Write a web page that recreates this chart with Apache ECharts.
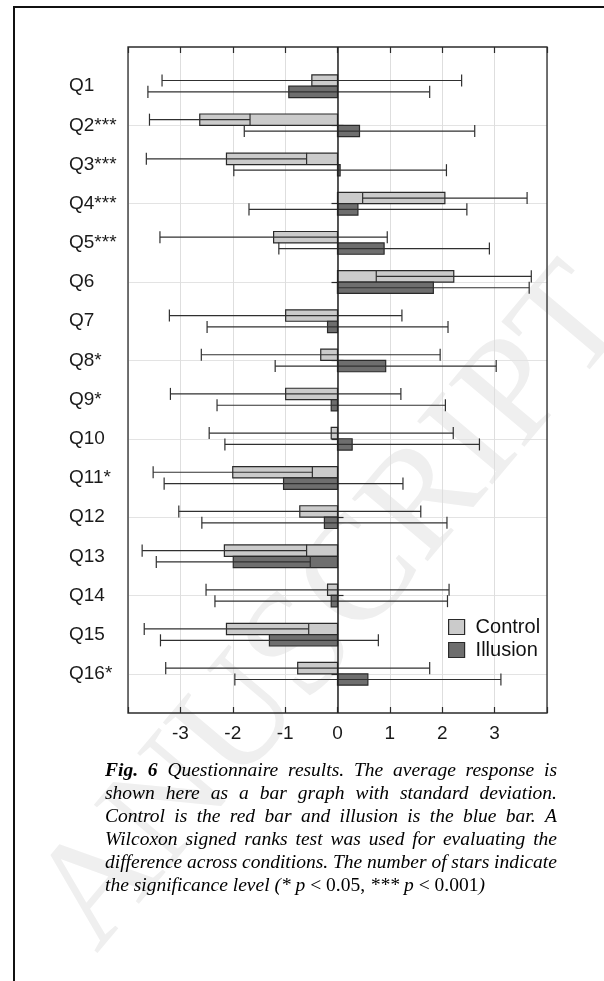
<!DOCTYPE html>
<html><head><meta charset="utf-8">
<script src="https://cdn.jsdelivr.net/npm/echarts@6/dist/echarts.min.js"></script>
<style>
html,body{margin:0;padding:0;background:#fff;}
#wrap{position:relative;width:604px;height:981px;overflow:hidden;}
#chart{position:absolute;left:0;top:0;width:604px;height:981px;}
#caption{position:absolute;left:105px;top:758px;width:452px;font-family:'Liberation Serif','Times New Roman',serif;font-style:italic;font-size:19.5px;line-height:23px;color:#000;}
#caption .j{display:flex;justify-content:space-between;white-space:nowrap;}
#caption .l{white-space:nowrap;}
#caption b{font-weight:bold;}
#caption .m{font-style:italic;}
#caption .u{font-style:normal;}
</style></head>
<body>
<div id="wrap">
<div id="chart"></div>
<div id="caption"></div>
</div>
<script>
const categories = ['Q1','Q2***','Q3***','Q4***','Q5***','Q6','Q7','Q8*','Q9*','Q10','Q11*','Q12','Q13','Q14','Q15','Q16*'];
const controlMean  = [-0.49, -2.63, -2.12, 2.05, -1.22, 2.22, -0.99, -0.32, -0.99, -0.12, -2.00, -0.72, -2.16, -0.19, -2.12, -0.76];
const controlSD    = [ 2.86,  0.96,  1.53, 1.57,  2.17, 1.48,  2.22,  2.28,  2.20,  2.33,  1.52,  2.31,  1.57,  2.32,  1.57,  2.52];
const illusionMean = [-0.93,  0.42,  0.05, 0.39,  0.89, 1.83, -0.19,  0.92, -0.12,  0.28, -1.03, -0.25, -1.99, -0.12, -1.30,  0.58];
const illusionSD   = [ 2.69,  2.20,  2.03, 2.08,  2.01, 1.83,  2.30,  2.11,  2.18,  2.43,  2.28,  2.34,  1.47,  2.22,  2.08,  2.54];
const xTickLabels = ['-3','-2','-1','0','1','2','3'];
const seriesNames = ['Control','Illusion'];

const captionLines = [
  'Fig. 6 Questionnaire results. The average response is',
  'shown here as a bar graph with standard deviation.',
  'Control is the red bar and illusion is the blue bar. A',
  'Wilcoxon signed ranks test was used for evaluating the',
  'difference across conditions. The number of stars indicate'
];

(function(){
  const cap = document.getElementById('caption');
  captionLines.forEach((line, li) => {
    const d = document.createElement('div');
    d.className = 'j';
    line.split(' ').forEach((w, wi) => {
      const s = document.createElement(li === 0 && wi < 2 ? 'b' : 'span');
      s.textContent = w;
      d.appendChild(s);
    });
    cap.appendChild(d);
  });
  const last = document.createElement('div');
  last.className = 'l';
  last.innerHTML = 'the significance level (* <span class="m">p</span> <span class="u">&lt; 0.05,</span> *** <span class="m">p</span> <span class="u">&lt; 0.001</span>)';
  cap.appendChild(last);
})();

const yCats = [''].concat(categories, ['']);
const evenTick = (idx) => idx > 0 && idx < yCats.length - 1 && idx % 2 === 0;

const COLORS = {Control:'#cbcbcb', Illusion:'#6e6e6e'};
const EDGE = '#2a2a2a';

function makeRender(side, fill){
  return function(params, api){
    const yi = api.value(0);
    const mean = api.value(1), sd = api.value(2);
    const c0 = api.coord([0, yi]);
    const cm = api.coord([mean, yi]);
    const cl = api.coord([mean - sd, yi]);
    const ch = api.coord([mean + sd, yi]);
    const band = Math.abs(api.coord([0, yi + 1])[1] - c0[1]);
    const h = band * 0.29;
    const top = side < 0 ? c0[1] - h : c0[1];
    const cy = top + h / 2;
    const capH = h * 1.06;
    const x1 = Math.min(c0[0], cm[0]);
    const w = Math.abs(cm[0] - c0[0]);
    const ls = {stroke:'#303030', lineWidth:1.2};
    return {type:'group', children:[
      {type:'rect', shape:{x:x1, y:top, width:w, height:h}, style:{fill:fill, stroke:EDGE, lineWidth:1.2}},
      {type:'line', shape:{x1:cl[0], y1:cy, x2:ch[0], y2:cy}, style:ls},
      {type:'line', shape:{x1:cl[0], y1:cy - capH/2, x2:cl[0], y2:cy + capH/2}, style:ls},
      {type:'line', shape:{x1:ch[0], y1:cy - capH/2, x2:ch[0], y2:cy + capH/2}, style:ls}
    ]};
  };
}

const chart = echarts.init(document.getElementById('chart'), null, {renderer:'canvas'});
const axisFont = {fontFamily:'Liberation Sans, Arial, sans-serif', fontSize:19, color:'#1a1a1a'};

const xBase = {
  type:'value', min:-4, max:4, interval:1,
  axisLine:{show:false},
  axisTick:{show:true, inside:true, length:6, lineStyle:{color:'#2b2b2b', width:1.2}}
};

chart.setOption({
  animation:false,
  backgroundColor:'#fff',
  grid:{left:128, top:47, width:419, height:666, show:true, borderColor:'#2b2b2b', borderWidth:1.3, backgroundColor:'transparent', z:3},
  xAxis:[
    Object.assign({}, xBase, {position:'bottom',
      axisLabel:Object.assign({margin:11, formatter:(v)=>{ const s=String(v); return xTickLabels.indexOf(s)>=0 ? s : ''; }}, axisFont),
      splitLine:{show:true, lineStyle:{color:'#dedede', width:1}}}),
    Object.assign({}, xBase, {position:'top', axisLabel:{show:false}, splitLine:{show:false}})
  ],
  yAxis:[
    {type:'category', data:yCats, inverse:true, boundaryGap:false, position:'left',
     axisLine:{show:false},
     axisTick:{show:true, inside:true, length:6, interval:evenTick, lineStyle:{color:'#2b2b2b', width:1.2}},
     axisLabel:Object.assign({interval:0, align:'left', margin:59}, axisFont),
     splitLine:{show:true, interval:evenTick, lineStyle:{color:'#e3e3e3', width:1}}},
    {type:'category', data:yCats, inverse:true, boundaryGap:false, position:'right',
     axisLine:{show:false},
     axisTick:{show:true, inside:true, length:6, interval:evenTick, lineStyle:{color:'#2b2b2b', width:1.2}},
     axisLabel:{show:false}, splitLine:{show:false}}
  ],
  legend:{
    orient:'vertical', left:448, top:617, padding:0, itemWidth:16, itemHeight:15, itemGap:3, icon:'rect',
    textStyle:{fontFamily:'Liberation Sans, Arial, sans-serif', fontSize:20, color:'#111', padding:[0,0,0,6]},
    data:seriesNames.map(n => ({name:n, itemStyle:{color:COLORS[n], borderColor:EDGE, borderWidth:1.2}}))
  },
  graphic:[
    {type:'text', z:-10, x:335, y:610, rotation:0.87,
     style:{text:'ANUSCRIPT', fill:'#efefef', font:'150px "Liberation Serif", serif', align:'center', verticalAlign:'middle'}},
    {type:'line', z:10, shape:{x1:13, y1:7, x2:604, y2:7}, style:{stroke:'#111', lineWidth:2}},
    {type:'line', z:10, shape:{x1:14, y1:6, x2:14, y2:981}, style:{stroke:'#111', lineWidth:2}}
  ],
  series:[
    {name:'Control', type:'custom', xAxisIndex:0, yAxisIndex:0, z:4,
     itemStyle:{color:COLORS.Control, borderColor:EDGE},
     encode:{y:0, x:1},
     data:categories.map((c,i)=>[c, controlMean[i], controlSD[i]]),
     renderItem:makeRender(-1, COLORS.Control)},
    {name:'Illusion', type:'custom', xAxisIndex:0, yAxisIndex:0, z:4,
     itemStyle:{color:COLORS.Illusion, borderColor:EDGE},
     encode:{y:0, x:1},
     data:categories.map((c,i)=>[c, illusionMean[i], illusionSD[i]]),
     renderItem:makeRender(1, COLORS.Illusion),
     markLine:{silent:true, symbol:['none','none'], z:6, label:{show:false},
       lineStyle:{color:'#222', width:1.5, type:'solid'}, data:[{xAxis:0}]}}
  ]
});
</script>
</body></html>
